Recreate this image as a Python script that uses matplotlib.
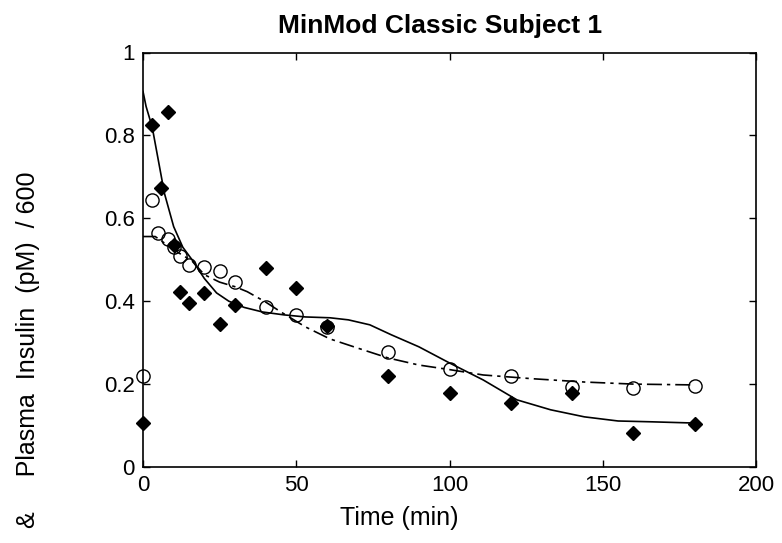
import matplotlib
matplotlib.use('Agg')
from matplotlib import pyplot as plt

plt.rcParams['font.family'] = ['Liberation Sans', 'DejaVu Sans']

# measured plasma insulin (filled diamonds)
t_ins = [0, 3, 6, 8, 10, 12, 15, 20, 25, 30, 40, 50, 60, 80, 100, 120, 140, 160, 180]
ins = [0.106, 0.826, 0.674, 0.857, 0.536, 0.423, 0.396, 0.42, 0.345, 0.391,
       0.481, 0.432, 0.341, 0.22, 0.179, 0.155, 0.179, 0.082, 0.104]

# measured glucose (open circles)
t_glu = [0, 3, 5, 8, 10, 12, 15, 20, 25, 30, 40, 50, 60, 80, 100, 120, 140, 160, 180]
glu = [0.22, 0.645, 0.565, 0.55, 0.53, 0.51, 0.488, 0.483, 0.474, 0.446,
       0.386, 0.367, 0.338, 0.278, 0.237, 0.22, 0.193, 0.191, 0.196]

# model fit, insulin (solid)
t_ins_fit = [0, 1, 3, 5, 7, 10, 13, 16, 20, 24, 28, 33, 39, 46, 53, 61, 67,
             74, 81, 90, 100, 111, 122, 133, 144, 155, 166, 180]
ins_fit = [0.906, 0.87, 0.82, 0.74, 0.66, 0.58, 0.53, 0.5, 0.455, 0.42, 0.4,
           0.385, 0.374, 0.367, 0.362, 0.36, 0.355, 0.343, 0.319, 0.29, 0.251,
           0.21, 0.162, 0.138, 0.121, 0.111, 0.109, 0.106]

# model fit, glucose (dash-dot)
t_glu_fit = [0, 4, 8, 12, 16, 20, 25, 30, 34, 40, 45, 53, 61, 70, 80, 90,
             100, 111, 127, 144, 160, 180]
glu_fit = [0.556, 0.556, 0.535, 0.515, 0.497, 0.464, 0.446, 0.435, 0.423,
           0.398, 0.374, 0.338, 0.309, 0.287, 0.263, 0.246, 0.235, 0.222,
           0.213, 0.205, 0.2, 0.198]

xticks = [0, 50, 100, 150, 200]
yticks = [0, 0.2, 0.4, 0.6, 0.8, 1]
ytick_labels = ['0', '0.2', '0.4', '0.6', '0.8', '1']

W, H = 782, 543
fig = plt.figure(figsize=(W / 100, H / 100), dpi=100)
ax = fig.add_axes([143 / W, 1 - 467 / H, (756 - 143) / W, (467 - 52.5) / H])

ax.plot(t_ins_fit, ins_fit, color='black', lw=1.2)
ax.plot(t_glu_fit, glu_fit, color='black', lw=1.2, dashes=[9, 3, 2, 3])
ax.plot(t_ins, ins, 'D', color='black', ms=7.5, clip_on=False)
ax.plot(t_glu, glu, 'o', mfc='none', mec='black', mew=1.0, ms=9.5, clip_on=False)

ax.set_xlim(0, 200)
ax.set_ylim(0, 1)
ax.set_xticks(xticks)
ax.set_xticklabels([str(x) for x in xticks])
ax.set_yticks(yticks)
ax.set_yticklabels(ytick_labels)
ax.tick_params(direction='in', length=5, width=1, top=True, right=True,
               labelsize=16, pad=6)
for s in ax.spines.values():
    s.set_linewidth(1.2)

fig.text(440 / W, 1 - 33 / H, 'MinMod Classic Subject 1', ha='center',
         va='baseline', fontsize=19, fontweight='bold')
fig.text(399 / W, 1 - 525 / H, 'Time (min)', ha='center', va='baseline',
         fontsize=18)
fig.text(28 / W, 1 - 171 / H, '&     Plasma  Insulin  (pM)  / 600',
         rotation=90, ha='center', va='top', fontsize=18)

fig.savefig('out.png', dpi=100)
